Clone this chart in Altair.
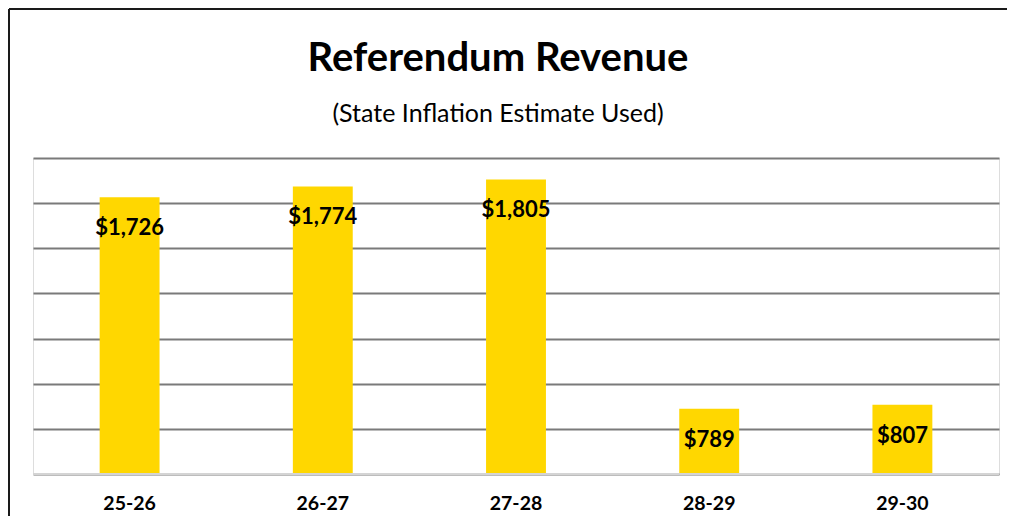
import altair as alt
import pandas as pd

years = ["25-26", "26-27", "27-28", "28-29", "29-30"]
revenue = [1726, 1774, 1805, 789, 807]
labels = ["$1,726", "$1,774", "$1,805", "$789", "$807"]
base = [500, 500, 500, 500, 500]
grid_values = [500, 700, 900, 1100, 1300, 1500, 1700, 1900]

df = pd.DataFrame({"year": years, "revenue": revenue, "label": labels, "base": base})

FONT = "Lato"

xenc = alt.X(
    "year:N",
    sort=None,
    scale=alt.Scale(paddingInner=0.69, paddingOuter=0.345),
    axis=alt.Axis(
        title=None, labelAngle=0, labelFont=FONT, labelFontWeight="bold",
        labelFontSize=19.5, labelColor="black", ticks=False, domain=False,
        grid=False, labelPadding=29, labelBaseline="middle",
    ),
)
yscale = alt.Scale(domain=[500, 1900], nice=False, zero=False)
yenc = alt.Y(
    "revenue:Q",
    scale=yscale,
    axis=alt.Axis(
        title=None, labels=False, ticks=False, domain=False, grid=True,
        values=grid_values, gridColor="#7a7a7a", gridWidth=2, gridOpacity=1,
    ),
)

bars = alt.Chart(df).mark_bar(color="#FFD700").encode(
    x=xenc, y=yenc, y2=alt.Y2("base:Q")
)

text = alt.Chart(df).mark_text(
    font=FONT, fontWeight="bold", fontSize=22, color="black",
    baseline="middle", dy=31,
).encode(x=alt.X("year:N", sort=None), y=alt.Y("revenue:Q"), text="label:N")

bottom = alt.Chart(pd.DataFrame({"v": [500]})).mark_rule(
    color="#d4d4d4", strokeWidth=2
).encode(y=alt.Y("v:Q"))

frame_left = alt.Chart(pd.DataFrame({"a": [0]})).mark_rule(
    color="#1a1a1a", strokeWidth=2
).encode(x=alt.value(-24), y=alt.value(-149), y2=alt.value(400))
frame_top = alt.Chart(pd.DataFrame({"a": [0]})).mark_rule(
    color="#1a1a1a", strokeWidth=2
).encode(x=alt.value(-24), x2=alt.value(1000), y=alt.value(-149))

chart = alt.layer(bars, text, bottom, frame_left, frame_top).properties(
    width=966,
    height=316,
    padding={"left": 25, "top": 150, "right": 8, "bottom": 42},
    autosize=alt.AutoSizeParams(type="none"),
    title=alt.TitleParams(
        "Referendum Revenue",
        subtitle="(State Inflation Estimate Used)",
        font=FONT, fontSize=40, fontWeight="bold", color="black",
        subtitleFont=FONT, subtitleFontSize=25, subtitleColor="black",
        subtitlePadding=23, anchor="middle", dx=-18, offset=-119,
    ),
).configure_view(stroke="#8c8c8c", strokeWidth=2).configure(background="white")

chart.save("out.html", embed_options={"renderer": "svg", "actions": False})
